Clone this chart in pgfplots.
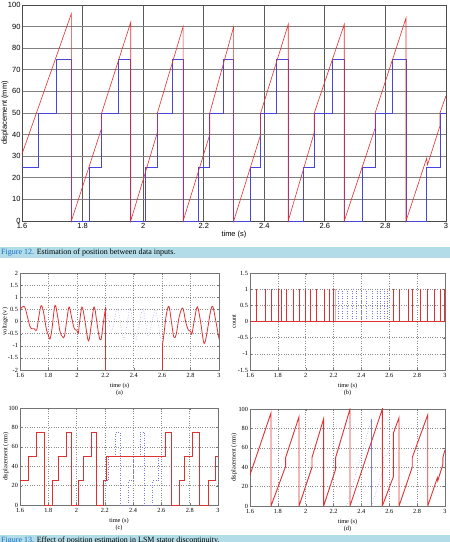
\documentclass[border=0pt]{standalone}
\usepackage{fontspec}
\setmainfont{Liberation Serif}
\setsansfont{Liberation Sans}
\usepackage{pgfplots}
\pgfplotsset{compat=1.18}
\definecolor{tred}{RGB}{230,45,45}
\definecolor{tblue}{RGB}{70,70,220}
\definecolor{sred}{RGB}{222,50,50}
\definecolor{sblue}{RGB}{120,120,230}
\definecolor{band}{RGB}{178,220,232}
\definecolor{capblue}{RGB}{20,110,200}
\newcommand\tk{\fontsize{6.3}{7}\selectfont}
\pgfplotsset{
  sub/.style={
    scale only axis, xmin=1.6, xmax=3,
    xtick={1.6,1.8,2,2.2,2.4,2.6,2.8,3},
    grid=major, major grid style={black!45, dotted, line width=0.5pt},
    axis line style={black!55, line width=0.5pt},
    tick align=inside, major tick length=2pt, tick style={black!55},
    ticklabel style={font=\tk},
    /pgf/number format/assume math mode=true,
    label style={font=\tk},
    xlabel style={align=center, yshift=2pt},
    yticklabel style={xshift=1.5pt},
    xticklabel style={yshift=0pt},
  }
}
\begin{document}
\begin{tikzpicture}[x=1pt,y=1pt]
\useasboundingbox (0,0) rectangle (450,542);
\clip (0,0) rectangle (450,542);
% captions
\fill[band] (0,284) rectangle (450,295);
\node[anchor=base west, inner sep=0pt, font=\fontsize{8}{9}\selectfont] at (1,287) {\textcolor{capblue}{Figure 12.} Estimation of position between data inputs.};
\fill[band] (0,-2) rectangle (450,6.5);
\node[anchor=base west, inner sep=0pt, font=\fontsize{8}{9}\selectfont] at (1,-0.3) {\textcolor{capblue}{Figure 13.} Effect of position estimation in LSM stator discontinuity.};

% ---------------- top chart
\begin{axis}[
  at={(22pt,321pt)}, anchor=south west,
  scale only axis, width=424pt, height=216pt,
  xmin=1.6, xmax=3, ymin=0, ymax=100,
  xtick={1.6,1.8,2,2.2,2.4,2.6,2.8,3},
  ytick={0,10,20,30,40,50,60,70,80,90,100},
  xmajorgrids, ymajorgrids,
  x grid style={black!65, line width=0.9pt},
  y grid style={black!50, line width=0.9pt},
  axis line style={black!70, line width=0.9pt},
  tick style={draw=none},
  /pgf/number format/assume math mode=true,
  ticklabel style={font=\sffamily\fontsize{7.5}{8}\selectfont},
  label style={font=\sffamily\fontsize{7.5}{8}\selectfont},
  xticklabel style={yshift=1pt},
  yticklabel style={xshift=2pt},
  xlabel={time (s)}, ylabel={displacement (mm)},
  xlabel style={yshift=5pt},
  ylabel style={at={(axis description cs:-0.040,0.5)}, anchor=center},
  clip=false,
]
\addplot[tblue, line width=0.6pt, const plot] coordinates {
(1.6,25)(1.654,50)(1.714,75)(1.763,0)(1.822,25)(1.863,50)(1.919,75)(1.959,0)
(2.007,25)(2.047,50)(2.097,75)(2.132,0)(2.183,25)(2.220,50)(2.265,75)(2.299,0)
(2.354,25)(2.388,50)(2.440,75)(2.479,0)(2.529,25)(2.565,50)(2.625,75)(2.664,0)
(2.723,25)(2.766,50)(2.822,75)(2.868,0)(2.936,25)(2.980,50)(3.0,50)};
\addplot[tred, line width=0.6pt] coordinates {
(1.6,31)(1.763,96)(1.763,0)(1.863,43)(1.863,50)(1.959,92)(1.959,0)
(2.047,41)(2.047,50)(2.132,90)(2.132,0)(2.220,40)(2.220,50)(2.299,90)(2.299,0)
(2.388,40)(2.388,50)(2.479,91)(2.479,0)(2.565,41)(2.565,50)(2.664,91)(2.664,0)
(2.766,43)(2.766,50)(2.868,94)(2.868,0)(2.936,29)(2.939,26)(2.980,44)(2.980,50)(3.0,58)};
\end{axis}

% ---------------- (a)
\begin{axis}[sub,
  at={(20pt,172pt)}, anchor=south west, width=199pt, height=97pt,
  ymin=-2, ymax=2, ytick={-2,-1.5,-1,-0.5,0,0.5,1,1.5,2},
  xlabel={time (s)\\(a)}, ylabel={voltage (v)},
  ylabel style={at={(axis description cs:-0.075,0.5)}, anchor=center},
]
\addplot[sblue, dotted, line width=0.5pt, smooth] coordinates {
(2.205,0.55)(2.220,0.10)(2.235,-0.30)(2.250,-0.35)(2.265,0.10)(2.285,0.52)(2.300,0.20)
(2.315,-0.40)(2.332,-0.75)(2.350,-0.20)(2.374,0.55)(2.390,0.10)(2.403,-0.50)(2.416,-0.75)
(2.435,-0.20)(2.463,0.55)(2.480,0.10)(2.492,-0.40)(2.505,-0.60)(2.525,-0.10)(2.552,0.50)
(2.570,0.00)(2.585,-0.60)(2.598,-0.85)};
\addplot[sred, line width=0.8pt, smooth, tension=0.6] coordinates {
(1.600,0.50)(1.630,0.62)(1.650,0.25)(1.670,-0.20)(1.685,-0.30)(1.700,-0.30)(1.717,-0.36)
(1.730,0.10)(1.748,0.65)(1.765,0.40)(1.785,-0.30)(1.799,-0.55)(1.811,-0.72)(1.825,-0.30)
(1.846,0.66)(1.865,0.20)(1.881,-0.40)(1.898,-0.62)(1.912,-0.62)(1.928,0.00)(1.945,0.60)
(1.962,0.20)(1.982,-0.30)(1.999,-0.35)(2.010,-0.48)(2.020,0.00)(2.036,0.60)(2.055,0.10)
(2.081,-0.80)(2.100,-0.20)(2.121,0.60)(2.140,0.00)(2.156,-0.60)(2.170,-0.75)(2.185,-0.10)(2.203,0.60)};
\addplot[sred, line width=0.8pt] coordinates {(2.203,0.60)(2.203,-2)};
\addplot[sred, line width=0.8pt] coordinates {(2.604,-2)(2.604,-0.9)};
\addplot[sred, line width=0.8pt, smooth, tension=0.6] coordinates {
(2.604,-0.90)(2.615,-0.40)(2.630,0.30)(2.648,0.62)(2.665,0.00)(2.683,-0.65)(2.700,-0.50)
(2.720,0.20)(2.745,0.55)(2.765,0.00)(2.784,-0.35)(2.800,-0.40)(2.810,-0.50)(2.828,0.10)
(2.848,0.60)(2.870,0.00)(2.890,-0.80)(2.902,-0.85)(2.920,-0.30)(2.940,0.40)(2.956,0.62)
(2.975,0.10)(3.0,-0.72)};
\end{axis}

% ---------------- (b)
\begin{axis}[sub,
  at={(250pt,172pt)}, anchor=south west, width=195pt, height=97pt,
  ymin=-1.5, ymax=1.5, ytick={-1.5,-1,-0.5,0,0.5,1,1.5},
  xlabel={time (s)\\(b)}, ylabel={count},
  ylabel style={at={(axis description cs:-0.082,0.5)}, anchor=center},
]
\addplot[sblue, dotted, line width=0.5pt, ycomb, mark=none] coordinates {
(2.232,1)(2.265,1)(2.299,1)(2.335,1)(2.365,1)(2.398,1)(2.436,1)(2.475,1)(2.510,1)(2.535,1)(2.565,1)(2.585,1)};
\addplot[red!35, line width=1.6pt, ycomb, mark=none] coordinates {(2.214,1)};
\addplot[sred, line width=0.7pt, ycomb, mark=none] coordinates {
(1.648,1)(1.708,1)(1.751,1)(1.806,1)(1.823,1)(1.863,1)(1.911,1)(1.952,1)(1.995,1)(2.036,1)
(2.078,1)(2.131,1)(2.172,1)(2.198,1)
(2.629,1)(2.672,1)(2.737,1)(2.768,1)(2.825,1)(2.873,1)(2.921,1)(2.964,1)(2.998,1)};
\addplot[sred, line width=0.8pt] coordinates {(1.6,0)(3,0)};
\end{axis}

% ---------------- (c)
\begin{axis}[sub,
  at={(20pt,37pt)}, anchor=south west, width=198pt, height=97pt,
  ymin=0, ymax=100, ytick={0,20,40,60,80,100},
  xlabel={time (s)\\(c)}, ylabel={displacement (mm)},
  ylabel style={at={(axis description cs:-0.072,0.5)}, anchor=center},
]
\addplot[sblue, dotted, line width=0.5pt, const plot] coordinates {
(2.212,25)(2.224,50)(2.271,75)(2.306,0)(2.365,25)(2.400,50)(2.447,75)(2.482,0)(2.536,25)(2.576,50)(2.631,50)};
\addplot[sred, line width=0.9pt, const plot] coordinates {
(1.6,25)(1.659,50)(1.718,75)(1.772,0)(1.828,25)(1.871,50)(1.925,75)(1.965,0)
(2.014,25)(2.052,50)(2.106,75)(2.141,0)(2.188,25)(2.212,50)(2.631,75)(2.671,0)
(2.725,25)(2.765,50)(2.819,75)(2.866,0)(2.936,25)(2.984,50)(3.0,50)};
\end{axis}

% ---------------- (d)
\begin{axis}[sub,
  at={(250pt,36pt)}, anchor=south west, width=195pt, height=97pt,
  ymin=0, ymax=100, ytick={0,20,40,60,80,100},
  xlabel={time (s)\\(d)}, ylabel={displacement (mm)},
  ylabel style={at={(axis description cs:-0.082,0.5)}, anchor=center},
]
\addplot[sblue, dotted, line width=0.5pt] coordinates {(2.215,50)(2.294,88)};
\addplot[sblue, dotted, line width=0.5pt] coordinates {(2.294,0)(2.473,90)};
\addplot[sblue, line width=0.6pt] coordinates {(2.473,90)(2.473,0)};
\addplot[sblue, dotted, line width=0.5pt] coordinates {(2.473,0)(2.560,40)(2.560,50)(2.600,56)};
\addplot[sred, line width=0.9pt] coordinates {
(1.6,32)(1.751,96)(1.751,0)(1.856,41)(1.856,50)(1.952,92)(1.952,0)
(2.045,40)(2.045,50)(2.129,90)(2.129,0)(2.215,38)(2.215,50)(2.318,100)(2.318,0)
(2.550,100)(2.550,0)(2.629,30)(2.629,75)(2.670,91)(2.670,0)(2.765,40)(2.765,50)
(2.876,94)(2.876,0)(2.945,29)(2.948,26)(2.985,43)(2.985,50)(3.0,58)};
\end{axis}
\end{tikzpicture}
\end{document}
